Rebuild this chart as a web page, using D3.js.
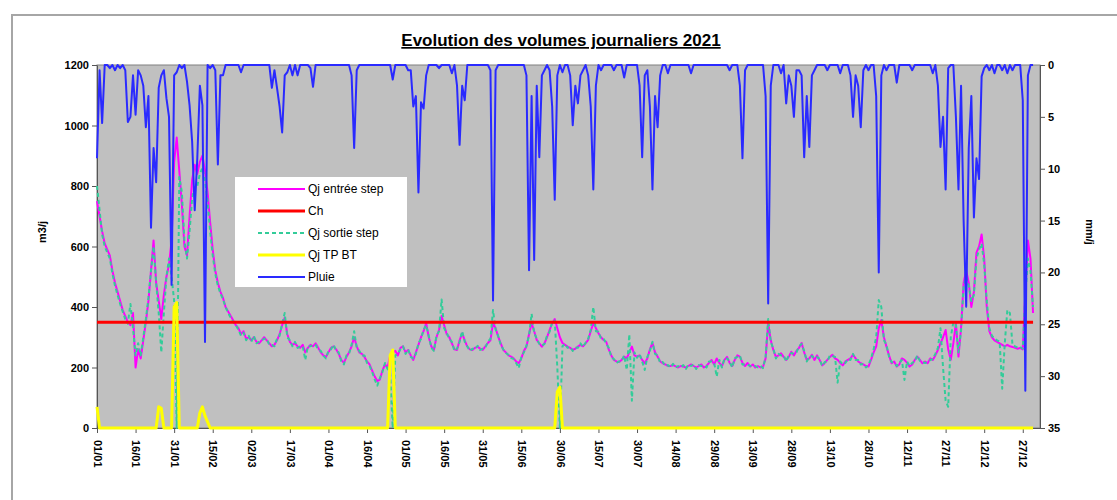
<!DOCTYPE html>
<html>
<head>
<meta charset="utf-8">
<script src="https://cdn.jsdelivr.net/npm/d3@7"></script>
<style>
  body { margin: 0; background: #fff; }
  svg { display: block; font-family: Arial, 'Liberation Sans', sans-serif; }
</style>
</head>
<body>
<div id="chart"></div>
<script>
// chart texts
let title = 'Evolution des volumes journaliers 2021'
let seriesNames = ['Qj entrée step', 'Ch', 'Qj sortie step', 'Qj TP BT', 'Pluie']
let leftLabel = 'm3/j'
let rightLabel = 'mm/j'
let startDate = '2021-01-01'
let chValue = 350
let leftTicks = [0, 200, 400, 600, 800, 1000, 1200]
let rightTicks = [0, 5, 10, 15, 20, 25, 30, 35]

// daily values, one row per month (m3/j)
let qjEntree = [
  750, 700, 650, 610, 590, 570, 520, 480, 450, 420, 390, 370, 350, 340, 380, 200, 260, 230, 290, 350, 420, 520, 620, 480, 420, 360, 440, 500, 540, 620, 880,
  960, 850, 740, 600, 570, 700, 820, 870, 840, 880, 900, 850, 780, 680, 590, 520, 480, 450, 430, 400, 385, 370, 355, 340, 330, 310, 320, 295,
  300, 290, 300, 285, 280, 290, 300, 290, 280, 270, 275, 290, 310, 340, 365, 310, 285, 275, 280, 270, 265, 275, 250, 265, 275, 270, 280, 265, 250, 240, 235,
  250, 265, 270, 260, 245, 225, 215, 235, 250, 270, 300, 270, 250, 245, 235, 220, 210, 190, 170, 155, 160, 190, 210, 200, 240, 250, 255, 240, 265, 270,
  250, 258, 240, 225, 250, 275, 300, 320, 347, 300, 270, 258, 300, 324, 370, 340, 310, 300, 280, 260, 258, 290, 313, 290, 269, 260, 258, 265, 269, 262, 258,
  270, 281, 290, 347, 330, 302, 280, 258, 250, 240, 236, 230, 220, 214, 230, 255, 269, 310, 347, 320, 291, 280, 269, 280, 300, 324, 345, 360, 330, 300,
  281, 275, 269, 265, 258, 262, 269, 275, 270, 280, 291, 320, 347, 330, 313, 300, 291, 285, 260, 240, 225, 220, 218, 225, 236, 230, 250, 269, 240, 236, 240,
  225, 214, 230, 260, 281, 250, 236, 220, 214, 210, 205, 205, 208, 204, 200, 205, 203, 200, 205, 210, 205, 200, 205, 210, 200, 205, 215, 225, 210, 230, 215,
  205, 225, 235, 215, 205, 225, 240, 236, 215, 205, 215, 203, 210, 200, 205, 200, 203, 230, 347, 290, 258, 235, 240, 247, 235, 225, 235, 252, 240, 255,
  265, 281, 250, 225, 230, 242, 225, 240, 225, 207, 215, 225, 235, 242, 230, 225, 215, 207, 220, 225, 230, 242, 230, 220, 214, 210, 205, 203, 225, 250, 269,
  330, 357, 300, 269, 240, 214, 220, 203, 210, 230, 225, 215, 203, 210, 225, 236, 225, 214, 220, 214, 230, 225, 240, 258, 280, 300, 324, 260, 225, 280,
  347, 236, 330, 480, 520, 480, 400, 450, 580, 600, 640, 560, 400, 320, 300, 290, 285, 280, 275, 270, 275, 270, 268, 265, 262, 265, 260, 450, 620, 560, 380
]

let qjSortie = [
  800, 720, 640, 600, 580, 560, 510, 470, 440, 410, 385, 360, 345, 410, 330, 240, 280, 240, 300, 360, 430, 520, 600, 480, 380, 250, 380, 500, 560, 500, 420,
  0, 830, 780, 620, 560, 650, 760, 800, 800, 840, 860, 820, 750, 650, 570, 510, 470, 445, 425, 400, 380, 365, 350, 340, 325, 305, 315, 290,
  305, 285, 305, 280, 285, 290, 295, 295, 275, 275, 270, 295, 305, 345, 380, 300, 290, 270, 285, 265, 270, 270, 225, 270, 270, 275, 275, 260, 255, 240, 230,
  255, 260, 275, 255, 250, 220, 210, 240, 245, 275, 320, 265, 255, 240, 240, 215, 205, 185, 160, 140, 165, 185, 215, 195, 180, 0, 240, 245, 260, 270,
  245, 260, 235, 230, 245, 280, 295, 325, 340, 305, 265, 255, 305, 320, 425, 330, 315, 295, 285, 255, 262, 285, 320, 285, 270, 255, 262, 260, 272, 258, 262,
  265, 285, 295, 390, 325, 305, 275, 260, 248, 242, 232, 228, 215, 198, 235, 250, 272, 305, 378, 315, 295, 278, 272, 278, 305, 318, 350, 355, 200, 0,
  270, 278, 265, 268, 255, 265, 265, 280, 268, 282, 295, 325, 400, 320, 318, 295, 295, 280, 265, 235, 228, 215, 220, 222, 240, 192, 310, 90, 250, 232, 245,
  220, 192, 235, 255, 285, 245, 240, 215, 218, 205, 208, 200, 212, 200, 205, 200, 208, 195, 210, 205, 210, 195, 208, 205, 205, 200, 220, 220, 215, 170, 225,
  200, 230, 230, 220, 200, 230, 235, 240, 210, 210, 210, 205, 205, 205, 200, 205, 198, 235, 360, 285, 262, 230, 245, 240, 240, 220, 240, 248, 245, 250,
  270, 278, 255, 220, 235, 238, 230, 235, 228, 205, 218, 220, 240, 238, 235, 150, 220, 210, 215, 228, 225, 245, 225, 225, 210, 212, 200, 208, 230, 260, 300,
  423, 400, 290, 275, 235, 218, 215, 205, 215, 225, 159, 220, 205, 215, 220, 240, 222, 218, 215, 218, 225, 228, 245, 265, 330, 200, 90, 70, 300, 350,
  340, 250, 320, 470, 500, 470, 420, 440, 560, 590, 610, 540, 420, 330, 305, 295, 290, 285, 130, 280, 390, 380, 275, 270, 265, 268, 262, 440, 560, 520, 400
]

let qjTpBt = [
  70, 0, 0, 0, 0, 0, 0, 0, 0, 0, 0, 0, 0, 0, 0, 0, 0, 0, 0, 0, 0, 0, 0, 0, 70, 65, 0, 0, 0, 0, 400,
  415, 0, 0, 0, 0, 0, 0, 0, 0, 50, 70, 40, 20, 0, 0, 0, 0, 0, 0, 0, 0, 0, 0, 0, 0, 0, 0, 0,
  0, 0, 0, 0, 0, 0, 0, 0, 0, 0, 0, 0, 0, 0, 0, 0, 0, 0, 0, 0, 0, 0, 0, 0, 0, 0, 0, 0, 0, 0, 0,
  0, 0, 0, 0, 0, 0, 0, 0, 0, 0, 0, 0, 0, 0, 0, 0, 0, 0, 0, 0, 0, 0, 0, 0, 240, 258, 0, 0, 0, 0,
  0, 0, 0, 0, 0, 0, 0, 0, 0, 0, 0, 0, 0, 0, 0, 0, 0, 0, 0, 0, 0, 0, 0, 0, 0, 0, 0, 0, 0, 0, 0,
  0, 0, 0, 0, 0, 0, 0, 0, 0, 0, 0, 0, 0, 0, 0, 0, 0, 0, 0, 0, 0, 0, 0, 0, 0, 0, 0, 0, 120, 135,
  0, 0, 0, 0, 0, 0, 0, 0, 0, 0, 0, 0, 0, 0, 0, 0, 0, 0, 0, 0, 0, 0, 0, 0, 0, 0, 0, 0, 0, 0, 0,
  0, 0, 0, 0, 0, 0, 0, 0, 0, 0, 0, 0, 0, 0, 0, 0, 0, 0, 0, 0, 0, 0, 0, 0, 0, 0, 0, 0, 0, 0, 0,
  0, 0, 0, 0, 0, 0, 0, 0, 0, 0, 0, 0, 0, 0, 0, 0, 0, 0, 0, 0, 0, 0, 0, 0, 0, 0, 0, 0, 0, 0,
  0, 0, 0, 0, 0, 0, 0, 0, 0, 0, 0, 0, 0, 0, 0, 0, 0, 0, 0, 0, 0, 0, 0, 0, 0, 0, 0, 0, 0, 0, 0,
  0, 0, 0, 0, 0, 0, 0, 0, 0, 0, 0, 0, 0, 0, 0, 0, 0, 0, 0, 0, 0, 0, 0, 0, 0, 0, 0, 0, 0, 0,
  0, 0, 0, 0, 0, 0, 0, 0, 0, 0, 0, 0, 0, 0, 0, 0, 0, 0, 0, 0, 0, 0, 0, 0, 0, 0, 0, 0, 0, 0, 0
]

// daily rain (mm/j)
let pluie = [
  9, 0.5, 5.6, 0, 0, 0.3, 0, 0.5, 0, 0.3, 0, 0.5, 5.5, 5, 1, 4.8, 0.5, 1, 2, 6, 3, 15.7, 8, 11.3, 2.2, 1, 0.5, 3.2, 5, 21.2, 1,
  0.7, 0, 0.3, 0, 1.6, 3.9, 7.4, 14, 9, 2, 3.9, 26.7, 0, 0.3, 0, 0.5, 9.6, 1, 1, 0, 0, 0, 0, 0, 0, 0.7, 0, 0,
  0, 0, 0, 0, 0, 0, 0, 0, 0, 2.2, 0.5, 2.2, 4, 6.5, 1, 0.7, 0, 1, 0, 1, 0, 0, 0, 0, 0.3, 2.1, 0, 0, 0, 0, 0,
  0, 0, 0, 0, 0, 0, 0, 0, 0, 1, 8, 0.5, 0, 0, 0, 0, 0, 0, 0, 0, 0, 0, 0, 0, 0, 1.4, 0, 0, 0, 0,
  0, 0.5, 0.5, 4, 3, 12.3, 3.6, 4.2, 1, 0, 0, 0, 0, 0.3, 0, 0, 0, 0, 0.8, 0, 2, 7.7, 2, 3.4, 0, 0, 0, 0, 0, 0, 0,
  0, 0, 0.5, 22.7, 0.5, 0, 0, 0, 0, 0, 0, 0, 0, 0, 0, 0, 1, 19.8, 3, 18.8, 2, 8.9, 1, 0.5, 0, 0.5, 4, 13, 1, 0,
  0.7, 0, 0, 1, 5.8, 2, 3.7, 1, 0.5, 0, 1, 4, 12, 2, 0, 0.5, 0, 0, 0, 0, 0.5, 0, 0, 0, 1.2, 0, 0, 0, 0, 0, 2,
  8.9, 1, 0.5, 4, 12, 3, 6, 1, 0, 0, 0.8, 0, 0, 0, 0, 0, 0, 0, 0, 0.8, 0, 0, 0, 0, 0, 0, 0, 0, 0, 0, 0,
  0, 0, 0, 0.5, 0, 0, 0, 2, 9, 0.5, 0, 0, 0, 0, 0, 0, 0, 3, 23, 2, 0, 0, 0, 0.8, 0, 3.7, 1, 2, 5, 0.5,
  0.5, 1, 8.9, 3, 7.9, 1, 0.5, 0, 0, 0, 0, 0.5, 0, 0, 0, 0, 0.8, 0, 0, 0, 1, 5, 1, 2, 6, 0.5, 0, 0.5, 0, 0, 3,
  20, 1, 0, 0.5, 0, 0, 0, 1.7, 0, 0, 0, 0, 0, 0.5, 0, 0, 0, 0, 0, 0, 0, 0.8, 0, 2, 7.9, 5, 12, 0.3, 0, 0,
  5, 12, 2, 15, 23.3, 8, 3, 14.7, 9, 11, 1.1, 0.3, 0, 0.5, 0, 0.8, 0, 0, 0.5, 0, 0.8, 0, 0.5, 0, 0, 0, 3.4, 31.4, 1, 0, 0
]

let colors = {
  entree: '#ff00ff',
  ch: '#ff0000',
  sortie: '#33cc99',
  tpbt: '#ffff00',
  pluie: '#2a2aff'
}

let plot = { left: 97, right: 1040, top: 65, bottom: 428 }

let svg = d3.select('#chart')
  .append('svg')
  .attr('width', 1117)
  .attr('height', 500)

// chart frame
svg.append('rect')
  .attr('x', 12)
  .attr('y', 15)
  .attr('width', 1130)
  .attr('height', 500)
  .attr('fill', '#fff')
  .attr('stroke', '#a6a6a6')
  .attr('stroke-width', 2)

let start = d3.utcParse('%Y-%m-%d')(startDate)
let dates = qjEntree.map(function(d, i) { return d3.utcDay.offset(start, i) })

let x = d3.scaleUtc()
  .domain([start, new Date(+start + 366.7 * 864e5)])
  .range([plot.left, plot.right])

let yLeft = d3.scaleLinear().domain([0, 1200]).range([plot.bottom, plot.top])
let yRight = d3.scaleLinear().domain([0, 35]).range([plot.top, plot.bottom])

// plot area
svg.append('rect')
  .attr('x', plot.left)
  .attr('y', plot.top)
  .attr('width', plot.right - plot.left)
  .attr('height', plot.bottom - plot.top)
  .attr('fill', '#c0c0c0')
  .attr('stroke', '#808080')
  .attr('stroke-width', 1)

// title
svg.append('text')
  .attr('x', 561)
  .attr('y', 46)
  .attr('text-anchor', 'middle')
  .attr('font-size', 17)
  .attr('font-weight', 'bold')
  .attr('text-decoration', 'underline')
  .text(title)

// axes
let xAxis = svg.append('g')
  .attr('transform', `translate(0, ${plot.bottom})`)
  .call(d3.axisBottom(x)
    .tickValues(d3.utcDay.range(start, d3.utcDay.offset(start, 365), 15))
    .tickFormat(d3.utcFormat('%d/%m'))
    .tickSize(5)
    .tickSizeOuter(0))

xAxis.selectAll('text')
  .attr('transform', 'rotate(90)')
  .attr('x', 12)
  .attr('y', 0)
  .attr('dy', '0.35em')
  .attr('text-anchor', 'start')

svg.append('g')
  .attr('transform', `translate(${plot.left}, 0)`)
  .call(d3.axisLeft(yLeft).tickValues(leftTicks).tickFormat(d3.format('d')).tickSize(5).tickSizeOuter(0))

svg.append('g')
  .attr('transform', `translate(${plot.right}, 0)`)
  .call(d3.axisRight(yRight).tickValues(rightTicks).tickFormat(d3.format('d')).tickSize(5).tickSizeOuter(0))

svg.selectAll('.tick text')
  .attr('font-size', 11)
  .attr('font-weight', 'bold')
  .attr('fill', '#000')

svg.selectAll('.domain, .tick line')
  .attr('stroke', '#555')

svg.append('text')
  .attr('transform', 'translate(46, 232) rotate(-90)')
  .attr('text-anchor', 'middle')
  .attr('font-size', 11)
  .attr('font-weight', 'bold')
  .text(leftLabel)

svg.append('text')
  .attr('transform', 'translate(1086, 232) rotate(90)')
  .attr('text-anchor', 'middle')
  .attr('font-size', 11)
  .attr('font-weight', 'bold')
  .text(rightLabel)

// series
let lineLeft = d3.line()
  .x(function(d, i) { return x(dates[i]) })
  .y(function(d) { return yLeft(d) })

let lineRight = d3.line()
  .x(function(d, i) { return x(dates[i]) })
  .y(function(d) { return yRight(d) })

let lines = svg.append('g').attr('fill', 'none').attr('stroke-linejoin', 'round')

lines.append('path')
  .attr('d', lineLeft(qjEntree))
  .attr('stroke', colors.entree)
  .attr('stroke-width', 2)

lines.append('path')
  .attr('d', lineLeft(qjSortie))
  .attr('stroke', colors.sortie)
  .attr('stroke-width', 2)
  .attr('stroke-dasharray', '4,3')

lines.append('line')
  .attr('x1', plot.left)
  .attr('x2', x(dates[dates.length - 1]))
  .attr('y1', yLeft(chValue))
  .attr('y2', yLeft(chValue))
  .attr('stroke', colors.ch)
  .attr('stroke-width', 3)

lines.append('path')
  .attr('d', lineLeft(qjTpBt))
  .attr('stroke', colors.tpbt)
  .attr('stroke-width', 3)

lines.append('path')
  .attr('d', lineRight(pluie))
  .attr('stroke', colors.pluie)
  .attr('stroke-width', 2)

// legend
let legend = svg.append('g')

legend.append('rect')
  .attr('x', 235)
  .attr('y', 177)
  .attr('width', 172)
  .attr('height', 110)
  .attr('fill', '#fff')

let legendStyles = [
  { color: colors.entree, width: 2, dash: null },
  { color: colors.ch, width: 3, dash: null },
  { color: colors.sortie, width: 2, dash: '4,3' },
  { color: colors.tpbt, width: 3, dash: null },
  { color: colors.pluie, width: 2, dash: null }
]

let legendY = d3.scalePoint().domain(seriesNames).range([189, 277])

let item = legend.selectAll('.item')
  .data(seriesNames)
  .enter()
  .append('g')
  .attr('class', 'item')
  .attr('transform', function(d) { return `translate(0, ${legendY(d)})` })

item.append('line')
  .attr('x1', 258)
  .attr('x2', 305)
  .attr('stroke', function(d, i) { return legendStyles[i].color })
  .attr('stroke-width', function(d, i) { return legendStyles[i].width })
  .attr('stroke-dasharray', function(d, i) { return legendStyles[i].dash })

item.append('text')
  .attr('x', 308)
  .attr('dy', '0.35em')
  .attr('font-size', 12)
  .text(function(d) { return d })
</script>
</body>
</html>
